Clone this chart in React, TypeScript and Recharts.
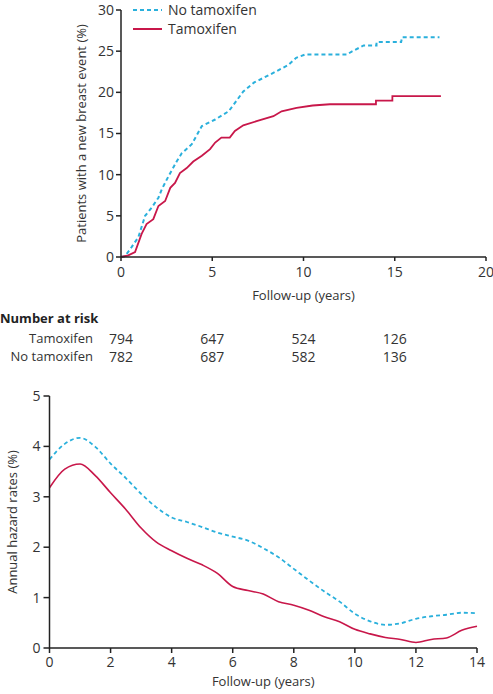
import { LineChart, Line, XAxis, YAxis } from 'recharts';

const RED = '#c8174a';
const BLUE = '#2ab0dc';
const INK = '#333';
const FONT = '"Open Sans", sans-serif';

// cumulative incidence (Kaplan-Meier); repeated years are the visible steps
const tamYears = [0, 0.4, 0.77, 1.13, 1.4, 1.77, 2.05, 2.42, 2.7, 2.96, 3.23, 3.6, 3.96, 4.43, 4.88, 5.16, 5.5, 5.96, 6.24, 6.7, 7.43, 8.35, 8.8, 9.62, 10.5, 11.45, 13.97, 13.97, 14.87, 14.87, 17.53];
const tamRisk = [0, 0.2, 0.6, 2.8, 4.0, 4.6, 6.2, 6.8, 8.4, 9.0, 10.2, 10.8, 11.6, 12.3, 13.1, 13.9, 14.5, 14.5, 15.3, 16.0, 16.5, 17.1, 17.7, 18.1, 18.4, 18.55, 18.55, 19.0, 19.0, 19.55, 19.55];
const noTamYears = [0, 0.22, 0.58, 0.95, 1.32, 1.68, 2.05, 2.23, 2.6, 3.05, 3.33, 3.88, 4.43, 5.16, 5.9, 6.17, 6.7, 7.3, 8.2, 9.15, 9.6, 10.1, 12.4, 12.6, 13.3, 14.0, 14.0, 15.35, 15.4, 17.45];
const noTamRisk = [0, 0.1, 1.2, 2.4, 5.0, 6.0, 7.2, 8.2, 9.8, 11.6, 12.6, 13.7, 15.9, 16.7, 17.7, 18.5, 20.1, 21.2, 22.2, 23.3, 24.2, 24.6, 24.6, 24.9, 25.7, 25.7, 26.1, 26.1, 26.7, 26.7];

// number at risk
const riskYears = [0, 5, 10, 15];
const riskTam = [794, 647, 524, 126];
const riskNoTam = [782, 687, 582, 136];

// annual hazard rates
const hazYears = [0, 0.5, 1, 1.5, 2, 2.5, 3, 3.5, 4, 4.5, 5, 5.5, 6, 6.5, 7, 7.5, 8, 8.5, 9, 9.5, 10, 10.5, 11, 11.5, 12, 12.5, 13, 13.5, 14];
const hazNoTam = [3.74, 4.05, 4.17, 3.99, 3.66, 3.37, 3.06, 2.79, 2.59, 2.5, 2.4, 2.29, 2.21, 2.13, 1.98, 1.8, 1.57, 1.34, 1.12, 0.92, 0.68, 0.53, 0.46, 0.49, 0.58, 0.63, 0.66, 0.7, 0.69];
const hazTam = [3.18, 3.55, 3.65, 3.42, 3.08, 2.75, 2.38, 2.1, 1.93, 1.78, 1.65, 1.48, 1.22, 1.14, 1.07, 0.92, 0.85, 0.75, 0.62, 0.52, 0.37, 0.28, 0.21, 0.17, 0.11, 0.17, 0.2, 0.35, 0.43];

const legendItems = [
    { name: 'No tamoxifen', color: BLUE, dash: '4 3' },
    { name: 'Tamoxifen', color: RED, dash: undefined },
];

const tamData = tamYears.map((t, i) => ({ t, v: tamRisk[i] }));
const noTamData = noTamYears.map((t, i) => ({ t, v: noTamRisk[i] }));
const hazData = hazYears.map((t, i) => ({ t, noTam: hazNoTam[i], tam: hazTam[i] }));

const tickStyle = { fontSize: 14, fill: INK, fontFamily: FONT };
const labelStyle = { fontSize: 13, fill: INK, fontFamily: FONT };
const axisLine = { stroke: '#222', strokeWidth: 1.5 };

// top plot area spans x 121..486 for 0..20 years
const TOP_LEFT = 121;
const TOP_W = 365;

export default function App() {
    return (
        <div style={{ position: 'absolute', left: 0, top: 0, width: 493, height: 694, background: '#fff' }}>
            <div style={{ position: 'absolute', left: 0, top: 0 }}>
                <LineChart width={493} height={310} margin={{ top: 10, right: 7, bottom: 0, left: 0 }}>
                    <XAxis
                        type="number"
                        dataKey="t"
                        domain={[0, 20]}
                        ticks={[0, 5, 10, 15, 20]}
                        height={53}
                        tick={tickStyle}
                        tickSize={4}
                        tickMargin={6}
                        axisLine={axisLine}
                        tickLine={axisLine}
                        allowDuplicatedCategory={false}
                        label={{ value: 'Follow-up (years)', position: 'insideBottom', offset: 10, style: labelStyle }}
                    />
                    <YAxis
                        type="number"
                        domain={[0, 30]}
                        ticks={[0, 5, 10, 15, 20, 25, 30]}
                        width={121}
                        tick={tickStyle}
                        tickSize={5}
                        tickMargin={2}
                        axisLine={axisLine}
                        tickLine={axisLine}
                        label={{ value: 'Patients with a new breast event (%)', angle: -90, position: 'center', dx: 21, style: labelStyle }}
                    />
                    <Line data={noTamData} dataKey="v" name="No tamoxifen" type="linear" stroke={BLUE} strokeWidth={2} strokeDasharray="4 3" dot={false} isAnimationActive={false} />
                    <Line data={tamData} dataKey="v" name="Tamoxifen" type="linear" stroke={RED} strokeWidth={1.8} dot={false} isAnimationActive={false} />
                </LineChart>
            </div>

            <div style={{ position: 'absolute', left: 133, top: 0, fontFamily: FONT, fontSize: 14, color: INK }}>
                {legendItems.map((it) => (
                    <div key={it.name} style={{ display: 'flex', alignItems: 'center', height: 19, lineHeight: '19px' }}>
                        <svg width={29} height={4} style={{ marginRight: 6 }}>
                            <line x1={0} x2={29} y1={2} y2={2} stroke={it.color} strokeWidth={2} strokeDasharray={it.dash} />
                        </svg>
                        {it.name}
                    </div>
                ))}
            </div>

            <div style={{ position: 'absolute', left: 0, top: 309, fontFamily: FONT, fontSize: 13, color: INK, width: 493, height: 60 }}>
                <div style={{ position: 'absolute', left: 0, top: 0, fontWeight: 700, color: '#222' }}>Number at risk</div>
                {[['Tamoxifen', riskTam, 20], ['No tamoxifen', riskNoTam, 38]].map(([name, vals, top]: any) => (
                    <div key={name}>
                        <div style={{ position: 'absolute', right: 493 - 93, top, whiteSpace: 'nowrap' }}>{name}</div>
                        {vals.map((v: number, i: number) => (
                            <div key={i} style={{ position: 'absolute', left: TOP_LEFT + (riskYears[i] / 20) * TOP_W - 20, width: 40, textAlign: 'center', top, fontSize: 14 }}>{v}</div>
                        ))}
                    </div>
                ))}
            </div>

            <div style={{ position: 'absolute', left: 0, top: 380 }}>
                <LineChart width={493} height={314} data={hazData} margin={{ top: 16, right: 16, bottom: 0, left: 0 }}>
                    <XAxis
                        type="number"
                        dataKey="t"
                        domain={[0, 14]}
                        ticks={[0, 2, 4, 6, 8, 10, 12, 14]}
                        height={46}
                        tick={tickStyle}
                        tickSize={5}
                        tickMargin={4}
                        axisLine={axisLine}
                        tickLine={axisLine}
                        label={{ value: 'Follow-up (years)', position: 'insideBottom', offset: 8, style: labelStyle }}
                    />
                    <YAxis
                        type="number"
                        domain={[0, 5]}
                        ticks={[0, 1, 2, 3, 4, 5]}
                        width={49.5}
                        tick={tickStyle}
                        tickSize={6}
                        tickMargin={3}
                        axisLine={axisLine}
                        tickLine={axisLine}
                        label={{ value: 'Annual hazard rates (%)', angle: -90, position: 'center', dx: -12.5, style: labelStyle }}
                    />
                    <Line dataKey="noTam" type="monotone" stroke={BLUE} strokeWidth={1.8} strokeDasharray="4 3" dot={false} isAnimationActive={false} />
                    <Line dataKey="tam" type="monotone" stroke={RED} strokeWidth={1.6} dot={false} isAnimationActive={false} />
                </LineChart>
            </div>
        </div>
    );
}
